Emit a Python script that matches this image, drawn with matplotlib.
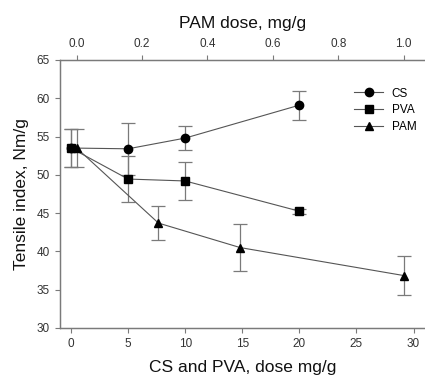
import matplotlib
matplotlib.use("Agg")
import matplotlib.pyplot as plt
from matplotlib.lines import Line2D

plt.rcParams["font.family"] = ["Liberation Sans", "DejaVu Sans"]

# CS and PVA, dose mg/g (bottom axis)
cs_dose = [0, 5, 10, 20]
cs_ti = [53.5, 53.4, 54.8, 59.1]
cs_err = [2.45, 3.4, 1.6, 1.9]

pva_dose = [0, 5, 10, 20]
pva_ti = [53.5, 49.45, 49.2, 45.25]
pva_err = [2.45, 2.95, 2.5, 0.3]

# PAM dose, mg/g (top axis)
pam_dose = [0.0, 0.25, 0.5, 1.0]
pam_ti = [53.5, 43.7, 40.5, 36.85]
pam_err = [2.45, 2.2, 3.05, 2.6]

fig = plt.figure(figsize=(4.25, 3.76), dpi=100)
ax = fig.add_axes([0.1412, 0.1277, 0.8588, 0.7128])
ax2 = ax.twiny()

grey = "#7a7a7a"
line_c = "#555555"
kw = dict(color=line_c, ecolor=grey, elinewidth=0.9, capsize=5, capthick=0.9,
          markersize=6, linewidth=0.8, mfc="black", mec="black")

ax.errorbar(cs_dose, cs_ti, yerr=cs_err, marker="o", **kw)
ax.errorbar(pva_dose, pva_ti, yerr=pva_err, marker="s", **{**kw, "markersize": 5.5})
ax2.errorbar(pam_dose, pam_ti, yerr=pam_err, marker="^", **kw)

xl = (-0.96, 31.0)
ax.set_xlim(xl)
ax2.set_xlim((xl[0] - 0.5) / 28.63, (xl[1] - 0.5) / 28.63)
ax.set_ylim(30, 65)
ax.set_xticks(range(0, 31, 5))
ax.set_yticks(range(30, 66, 5))
ax2.set_xticks([0.0, 0.2, 0.4, 0.6, 0.8, 1.0])
ax2.set_xticklabels(["0.0", "0.2", "0.4", "0.6", "0.8", "1.0"])

for a in (ax, ax2):
    a.spines["right"].set_visible(False)
    for s in a.spines.values():
        s.set_color(grey)
        s.set_linewidth(0.9)
    a.tick_params(colors=grey, labelcolor="#333333", labelsize=8.5,
                  direction="out", length=3.5, width=0.8, pad=4)

ax.set_xlabel("CS and PVA, dose mg/g", fontsize=12.5, color="#111111", labelpad=7)
ax.set_ylabel("Tensile index, Nm/g", fontsize=12.5, color="#111111", labelpad=5)
ax2.set_xlabel("PAM dose, mg/g", fontsize=12.5, color="#111111", labelpad=7)

handles = [
    Line2D([], [], color=line_c, lw=0.8, marker="o", ms=6, mfc="black", mec="black"),
    Line2D([], [], color=line_c, lw=0.8, marker="s", ms=5.5, mfc="black", mec="black"),
    Line2D([], [], color=line_c, lw=0.8, marker="^", ms=6, mfc="black", mec="black"),
]
ax.legend(handles, ["CS", "PVA", "PAM"], loc="upper left",
          bbox_to_anchor=(0.805, 0.897), frameon=False, fontsize=8.5,
          borderpad=0, borderaxespad=0, handlelength=2.5,
          handletextpad=0.7, labelspacing=0.4)

fig.savefig("out.png", dpi=100)
